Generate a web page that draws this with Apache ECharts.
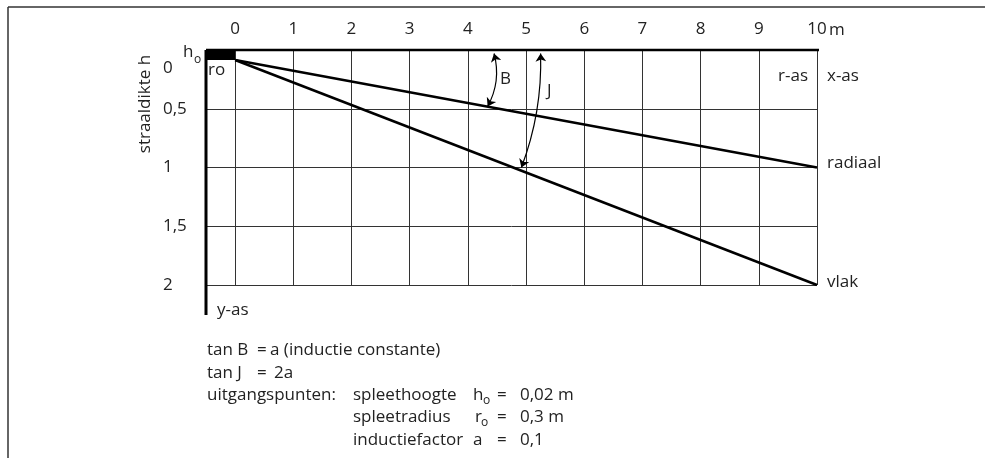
<!DOCTYPE html>
<html>
<head>
<meta charset="utf-8">
<script src="https://cdn.jsdelivr.net/npm/echarts@6/dist/echarts.min.js"></script>
<style>
  html, body { margin: 0; padding: 0; background: #fff; }
  #chart { width: 985px; height: 458px; }
</style>
</head>
<body>
<div id="chart"></div>
<script>
// afstand r (m) langs de x-as en straaldikte h langs de y-as
const xTicks = [0, 1, 2, 3, 4, 5, 6, 7, 8, 9, 10];
const yTicks = [0, 0.5, 1, 1.5, 2];

// beide lijnen beginnen onder het blokje h_o en lopen tot r = 10 m
const radiaalR = [0, 10];
const radiaalH = [0.085, 1];
const vlakR = [0, 10];
const vlakH = [0.085, 2];

// hoekpijlen B en J: [r, h] begin en eind
const arcB = [[4.45, 0.03], [4.34, 0.48]];
const arcJ = [[5.25, 0.03], [4.92, 1.0]];

// assen en het blokje h_o
const topAxis = [[-0.5, 0], [10.44, 0]];
const leftAxis = [[-0.5, 0], [-0.5, 2.255]];
const blockHo = [[-0.5, 0], [0, 0.085]];

const FONT = '"Open Sans", "Noto Sans", sans-serif';
const INK = '#222';

function txt(text, x, y, extra) {
  return {
    type: 'text', x: x, y: y, silent: true,
    style: Object.assign({
      text: text, fill: INK, fontSize: 17, fontFamily: FONT,
      align: 'left', verticalAlign: 'middle'
    }, extra || {})
  };
}

const notes = [
  txt('straaldikte h', 145, 104, { align: 'center' }),
  txt('0', 163, 68),
  txt('h', 183, 52),
  txt('o', 194, 60, { fontSize: 12 }),
  txt('m', 829, 30),
  txt('ro', 208, 70),
  txt('B', 500, 79),
  txt('J', 547, 91),
  txt('r-as', 808, 76, { align: 'right' }),
  txt('x-as', 827, 76),
  txt('y-as', 217, 310),
  txt('tan B', 207, 350),
  txt('=', 257, 350),
  txt('a (inductie constante)', 270, 350),
  txt('tan J', 207, 373),
  txt('=', 257, 373),
  txt('2a', 274, 373),
  txt('uitgangspunten:', 207, 395),
  txt('spleethoogte', 353, 395),
  txt('h', 473, 395),
  txt('o', 483, 401, { fontSize: 12 }),
  txt('=', 497, 395),
  txt('0,02 m', 520, 395),
  txt('spleetradius', 353, 417),
  txt('r', 475, 417),
  txt('o', 481, 423, { fontSize: 12 }),
  txt('=', 497, 417),
  txt('0,3 m', 520, 417),
  txt('inductiefactor', 353, 440),
  txt('a', 473, 440),
  txt('=', 497, 440),
  txt('0,1', 520, 440)
];
notes[0].rotation = Math.PI / 2;

const frame = [
  { type: 'line', silent: true, shape: { x1: 8, y1: 7, x2: 985, y2: 7 }, style: { stroke: '#333', lineWidth: 1.5 } },
  { type: 'line', silent: true, shape: { x1: 8, y1: 7, x2: 8, y2: 458 }, style: { stroke: '#333', lineWidth: 1.5 } }
];

const chart = echarts.init(document.getElementById('chart'));

const axisStroke = { color: '#000', width: 3 };

chart.setOption({
  animation: false,
  backgroundColor: '#fff',
  textStyle: { fontFamily: FONT },
  grid: { left: 206, right: 168, top: 50, bottom: 173 },
  xAxis: {
    type: 'value', position: 'top', min: -0.5, max: 10,
    axisLine: { show: false },
    axisTick: { show: false, customValues: xTicks },
    axisLabel: {
      customValues: xTicks, margin: 12, fontSize: 17, color: INK,
      fontFamily: FONT
    },
    splitLine: { show: true, lineStyle: { color: '#333', width: 1 } }
  },
  yAxis: {
    type: 'value', inverse: true, min: 0, max: 2, interval: 0.5,
    axisLine: { show: false },
    axisTick: { show: false },
    axisLabel: {
      align: 'left', margin: 43, fontSize: 17, color: INK, fontFamily: FONT,
      formatter: v => v === 0 ? '' : String(v).replace('.', ',')
    },
    splitLine: { show: true, lineStyle: { color: '#333', width: 1 } }
  },
  series: [
    {
      name: 'radiaal', type: 'line', symbol: 'none', silent: true,
      data: radiaalR.map((r, i) => [r, radiaalH[i]]),
      lineStyle: { color: '#000', width: 2.5 },
      endLabel: { show: true, formatter: 'radiaal', distance: 10, offset: [0, -4], fontSize: 17, color: INK, fontFamily: FONT },
      markArea: {
        silent: true,
        itemStyle: { color: '#000' },
        data: [[{ xAxis: blockHo[0][0], yAxis: blockHo[0][1] }, { xAxis: blockHo[1][0], yAxis: blockHo[1][1] }]]
      }
    },
    {
      name: 'vlak', type: 'line', symbol: 'none', silent: true,
      data: vlakR.map((r, i) => [r, vlakH[i]]),
      lineStyle: { color: '#000', width: 2.5 },
      endLabel: { show: true, formatter: 'vlak', distance: 10, offset: [0, -3], fontSize: 17, color: INK, fontFamily: FONT }
    },
    {
      name: 'x-as', type: 'line', symbol: 'none', silent: true, clip: false,
      data: topAxis, lineStyle: { color: '#000', width: 2.5 }, z: 4
    },
    {
      name: 'y-as', type: 'line', symbol: 'none', silent: true, clip: false,
      data: leftAxis, lineStyle: axisStroke, z: 4
    },
    {
      name: 'hoeken', type: 'lines', coordinateSystem: 'cartesian2d', silent: true,
      symbol: ['arrow', 'arrow'], symbolSize: 8,
      lineStyle: { color: '#000', width: 1.2, opacity: 1 },
      data: [
        { coords: arcB, lineStyle: { curveness: 0.2 } },
        { coords: arcJ, lineStyle: { curveness: 0.1 } }
      ],
      z: 5
    }
  ],
  graphic: frame.concat(notes)
});
</script>
</body>
</html>
